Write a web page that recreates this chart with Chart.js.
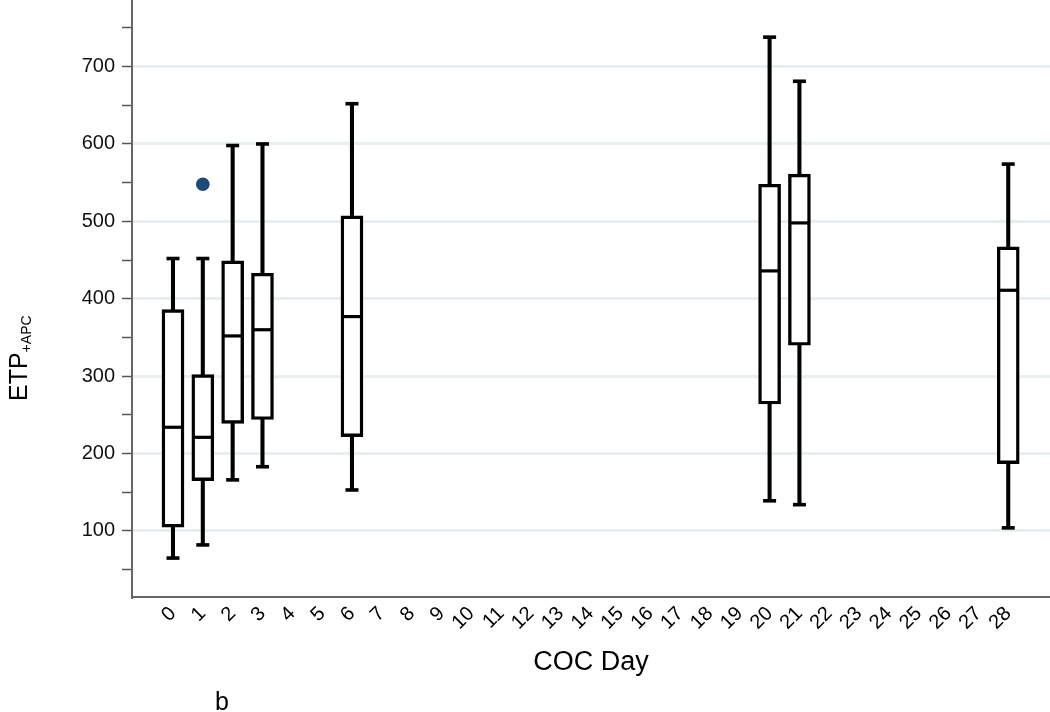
<!DOCTYPE html>
<html>
<head>
<meta charset="utf-8">
<script src="https://cdn.jsdelivr.net/npm/chart.js@4.4.1/dist/chart.umd.min.js"></script>
<style>
html,body{margin:0;padding:0;background:#ffffff;}
#wrap{width:1050px;height:712px;position:relative;}
canvas{display:block;}
</style>
</head>
<body>
<div id="wrap"><canvas id="chart" width="1050" height="712"></canvas></div>
<script>
// ---- data ----
const dayLabels = ['0','1','2','3','4','5','6','7','8','9','10','11','12','13','14','15','16','17','18','19','20','21','22','23','24','25','26','27','28'];
const boxDays      = [0,   1,   2,   3,   6,   20,  21,  28];
const whiskerLow   = [65,  82,  166, 183, 153, 139, 134, 104];
const quartile1    = [105, 165, 239, 244, 222, 264, 340, 187];
const medians      = [234, 221, 352, 360, 377, 436, 498, 411];
const quartile3    = [386, 302, 449, 433, 507, 548, 561, 467];
const whiskerHigh  = [452, 452, 598, 600, 652, 738, 681, 574];
const outlierDays   = [1];
const outlierValues = [548];
const yTickValues = [50,100,150,200,250,300,350,400,450,500,550,600,650,700,750];
const yLabelled   = [100,200,300,400,500,600,700];

const FONT = '"Liberation Sans", Arial, sans-serif';

const whiskerData = boxDays.map((d,i)=>({x:d, y:[whiskerLow[i], whiskerHigh[i]]}));
const boxData     = boxDays.map((d,i)=>({x:d, y:[quartile1[i], quartile3[i]]}));
const medianData  = boxDays.map((d,i)=>({x:d, y:medians[i]}));
const lowCapData  = boxDays.map((d,i)=>({x:d, y:whiskerLow[i]}));
const highCapData = boxDays.map((d,i)=>({x:d, y:whiskerHigh[i]}));
const outlierData = outlierDays.map((d,i)=>({x:d, y:outlierValues[i]}));

const textPlugin = {
  id: 'extraText',
  afterDraw(chart) {
    const ctx = chart.ctx;
    ctx.save();
    ctx.fillStyle = '#000';
    // y axis title with subscript
    ctx.translate(27, 401);
    ctx.rotate(-Math.PI/2);
    ctx.textAlign = 'left';
    ctx.textBaseline = 'alphabetic';
    ctx.font = '25px ' + FONT;
    ctx.fillText('ETP', 0, 0);
    const w = ctx.measureText('ETP').width;
    ctx.font = '14px ' + FONT;
    ctx.fillText('+APC', w, 4);
    ctx.restore();
    // panel letter
    ctx.save();
    ctx.fillStyle = '#000';
    ctx.font = '25px ' + FONT;
    ctx.textAlign = 'center';
    ctx.textBaseline = 'alphabetic';
    ctx.fillText('b', 222, 710);
    ctx.restore();
  }
};

new Chart(document.getElementById('chart'), {
  type: 'bar',
  data: {
    datasets: [
      { type:'scatter', label:'outlier', data: outlierData, pointStyle:'circle', pointRadius:6.8, pointHoverRadius:6.8,
        backgroundColor:'#1d4a76', borderColor:'#1d4a76', borderWidth:0, order:0 },
      { type:'scatter', label:'median', data: medianData, pointStyle:'line', pointRadius:9.5, pointHoverRadius:9.5,
        borderColor:'#000', borderWidth:3.2, order:1 },
      { type:'scatter', label:'lowCap', data: lowCapData, pointStyle:'line', pointRadius:6.5, pointHoverRadius:6.5,
        borderColor:'#000', borderWidth:3.6, order:1 },
      { type:'scatter', label:'highCap', data: highCapData, pointStyle:'line', pointRadius:6.5, pointHoverRadius:6.5,
        borderColor:'#000', borderWidth:3.6, order:1 },
      { type:'bar', label:'box', data: boxData, barThickness:22, backgroundColor:'#fff', borderColor:'#000',
        borderWidth:3.4, borderSkipped:false, grouped:false, order:2 },
      { type:'bar', label:'whisker', data: whiskerData, barThickness:3.4, backgroundColor:'#000', borderWidth:0,
        grouped:false, order:3 }
    ]
  },
  options: {
    responsive:false,
    animation:false,
    events:[],
    layout:{ autoPadding:false, padding:{left:0,right:0,top:0,bottom:0} },
    plugins:{ legend:{display:false}, tooltip:{enabled:false}, title:{display:false} },
    scales:{
      x:{
        type:'linear',
        position:'bottom',
        offset:false,
        min:-1.374,
        max:29.40,
        afterBuildTicks(scale){ scale.ticks = dayLabels.map((l,i)=>({value:i})); },
        afterFit(scale){ scale.height = 115; scale.paddingLeft = 0; scale.paddingRight = 0; },
        grid:{ display:false, drawTicks:false, offset:false },
        border:{ display:true, color:'#666', width:2 },
        ticks:{ autoSkip:false, minRotation:45, maxRotation:45, padding:5, labelOffset:0,
          color:'#000', font:{family:FONT, size:20},
          callback(v){ return dayLabels[Math.round(v)]; } },
        title:{ display:true, text:'COC Day', color:'#000', font:{family:FONT, size:27},
          padding:{top:0, bottom:33} }
      },
      y:{
        type:'linear',
        min:14.7,
        max:786,
        afterBuildTicks(scale){ scale.ticks = yTickValues.map(v=>({value:v})); },
        afterFit(scale){ scale.width = 132; scale.paddingTop = 0; scale.paddingBottom = 0; },
        grid:{ display:true, drawOnChartArea:true, drawTicks:true, tickLength:10, tickWidth:1.5, tickColor:'#555',
          lineWidth:3,
          color(ctx){ return (ctx.tick && yLabelled.includes(ctx.tick.value)) ? '#e7eff0' : 'rgba(0,0,0,0)'; } },
        border:{ display:true, color:'#666', width:2 },
        ticks:{ padding:7, color:'#111', font:{family:FONT, size:20},
          callback(v){ return yLabelled.includes(v) ? String(v) : ''; } },
        title:{ display:false }
      }
    }
  },
  plugins:[textPlugin]
});
</script>
</body>
</html>
